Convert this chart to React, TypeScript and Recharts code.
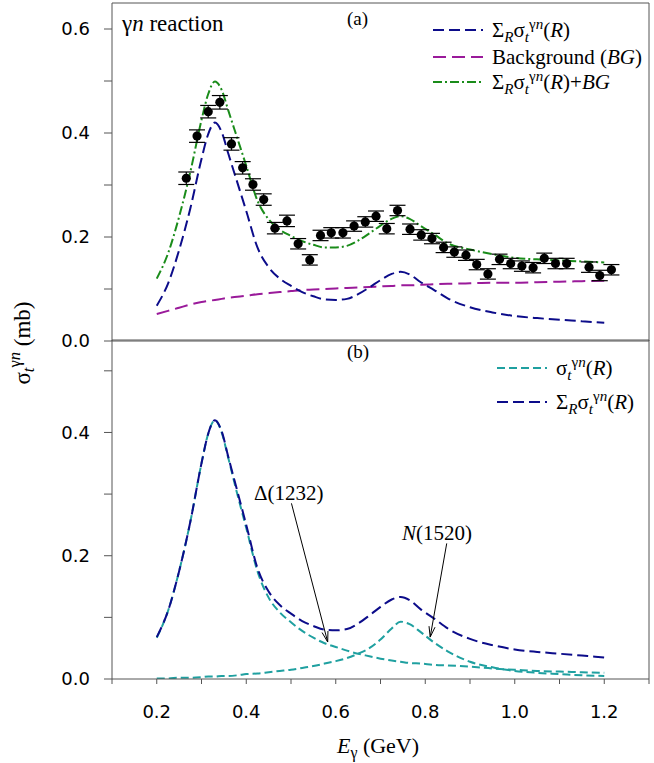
import { ComposedChart, Line, Scatter, ErrorBar, XAxis, YAxis, ReferenceLine } from "recharts";

// photon energy grid for the model curves (GeV)
const energy = [0.2, 0.225, 0.25, 0.275, 0.3, 0.315, 0.33, 0.345, 0.36, 0.38, 0.4, 0.425, 0.45, 0.475, 0.5, 0.525, 0.55, 0.575, 0.6, 0.625, 0.65, 0.675, 0.7, 0.725, 0.745, 0.765, 0.79, 0.82, 0.85, 0.9, 0.95, 1.0, 1.05, 1.1, 1.15, 1.2];
const sumRes = [0.068, 0.11, 0.175, 0.255, 0.35, 0.398, 0.42, 0.402, 0.36, 0.305, 0.25, 0.18, 0.142, 0.12, 0.106, 0.094, 0.086, 0.08, 0.079, 0.081, 0.09, 0.103, 0.117, 0.129, 0.133, 0.128, 0.113, 0.098, 0.082, 0.065, 0.055, 0.048, 0.044, 0.041, 0.038, 0.035];
const background = [0.052, 0.058, 0.064, 0.07, 0.075, 0.077, 0.079, 0.081, 0.083, 0.085, 0.087, 0.09, 0.092, 0.094, 0.096, 0.098, 0.099, 0.1, 0.101, 0.102, 0.103, 0.104, 0.105, 0.106, 0.107, 0.107, 0.108, 0.109, 0.11, 0.111, 0.112, 0.112, 0.113, 0.114, 0.115, 0.116];
const sumPlusBg = [0.12, 0.168, 0.239, 0.325, 0.425, 0.475, 0.499, 0.483, 0.443, 0.39, 0.337, 0.27, 0.234, 0.214, 0.202, 0.192, 0.185, 0.18, 0.18, 0.183, 0.193, 0.207, 0.222, 0.235, 0.24, 0.235, 0.221, 0.205, 0.188, 0.176, 0.167, 0.16, 0.157, 0.155, 0.153, 0.151];
const delta1232 = [0.067, 0.11, 0.175, 0.255, 0.35, 0.398, 0.42, 0.4, 0.358, 0.3, 0.245, 0.175, 0.132, 0.108, 0.092, 0.078, 0.067, 0.058, 0.052, 0.046, 0.041, 0.037, 0.033, 0.03, 0.028, 0.026, 0.025, 0.023, 0.022, 0.02, 0.017, 0.015, 0.013, 0.012, 0.011, 0.01];
const n1520 = [0.001, 0.001, 0.002, 0.002, 0.003, 0.004, 0.004, 0.005, 0.005, 0.006, 0.008, 0.009, 0.011, 0.013, 0.015, 0.018, 0.021, 0.025, 0.029, 0.034, 0.041, 0.05, 0.064, 0.082, 0.093, 0.089, 0.076, 0.059, 0.045, 0.028, 0.019, 0.013, 0.01, 0.008, 0.006, 0.005];

// measured gamma n cross section
const dataE = [0.266, 0.29, 0.315, 0.341, 0.367, 0.392, 0.415, 0.439, 0.464, 0.491, 0.516, 0.542, 0.566, 0.59, 0.616, 0.641, 0.666, 0.69, 0.714, 0.738, 0.766, 0.791, 0.815, 0.841, 0.865, 0.891, 0.915, 0.94, 0.966, 0.991, 1.016, 1.041, 1.066, 1.091, 1.116, 1.166, 1.19, 1.216];
const dataXs = [0.313, 0.394, 0.441, 0.459, 0.379, 0.333, 0.301, 0.272, 0.217, 0.231, 0.187, 0.156, 0.203, 0.208, 0.208, 0.221, 0.229, 0.24, 0.216, 0.251, 0.215, 0.204, 0.197, 0.18, 0.171, 0.165, 0.147, 0.129, 0.157, 0.149, 0.144, 0.141, 0.159, 0.149, 0.149, 0.142, 0.126, 0.137];
const dataErr = [0.012, 0.012, 0.012, 0.013, 0.012, 0.012, 0.011, 0.011, 0.011, 0.011, 0.01, 0.01, 0.01, 0.01, 0.01, 0.01, 0.01, 0.01, 0.01, 0.01, 0.01, 0.01, 0.01, 0.01, 0.01, 0.01, 0.01, 0.01, 0.01, 0.01, 0.01, 0.01, 0.01, 0.01, 0.01, 0.01, 0.01, 0.01];

const xTicks = [0.1, 0.2, 0.3, 0.4, 0.5, 0.6, 0.7, 0.8, 0.9, 1.0, 1.1, 1.2, 1.3];
const yTicksA = [0, 0.1, 0.2, 0.3, 0.4, 0.5, 0.6];
const yTicksB = [0, 0.1, 0.2, 0.3, 0.4, 0.5];

const curves = energy.map((e, i) => ({
  e,
  sum: sumRes[i],
  bg: background[i],
  tot: sumPlusBg[i],
  delta: delta1232[i],
  n: n1520[i],
}));
const points = dataE.map((e, i) => ({ e, xs: dataXs[i], err: dataErr[i] }));

const BLUE = "#0c0c8a";
const MAGENTA = "#9a1a9a";
const GREEN = "#1a8c1a";
const TEAL = "#1fa0a0";
const AXIS = "#555";
const SERIF = "'Liberation Serif', 'Times New Roman', serif";
const SANS = "'DejaVu Sans', sans-serif";

const evenLabel = (v: number) => (Math.round(v * 10) % 2 === 0 ? v.toFixed(1) : "");
const tickFont = { fontFamily: SANS, fontSize: 18, fill: "#000" };

function Arrow(p: any) {
  const { x1, y1, x2, y2 } = p;
  const ang = Math.atan2(y2 - y1, x2 - x1);
  const L = 11;
  const w = 0.28;
  const ax = x2 - L * Math.cos(ang - w);
  const ay = y2 - L * Math.sin(ang - w);
  const bx = x2 - L * Math.cos(ang + w);
  const by = y2 - L * Math.sin(ang + w);
  return (
    <g>
      <line x1={x1} y1={y1} x2={x2} y2={y2} stroke="#000" strokeWidth={1} />
      <polyline points={`${ax},${ay} ${x2},${y2} ${bx},${by}`} fill="none" stroke="#000" strokeWidth={1} />
    </g>
  );
}

const Sub = ({ children }: any) => (
  <span style={{ fontSize: "0.72em", verticalAlign: "-0.3em", lineHeight: 0 }}>{children}</span>
);
const Sup = ({ children }: any) => (
  <span style={{ fontSize: "0.72em", verticalAlign: "0.55em", lineHeight: 0 }}>{children}</span>
);

const SigmaT = () => (
  <>
    σ<Sub><i>t</i></Sub>
    <Sup>
      γ<i>n</i>
    </Sup>
  </>
);
const SumSigma = () => (
  <>
    Σ<Sub><i>R</i></Sub>
    <SigmaT />(<i>R</i>)
  </>
);

function LegendRow({ top, left, color, dash, children }: any) {
  return (
    <div style={{ position: "absolute", top: top - 12, left, height: 24, display: "flex", alignItems: "center", whiteSpace: "nowrap" }}>
      <svg width={50} height={4}>
        <line x1={0} y1={2} x2={50} y2={2} stroke={color} strokeWidth={2} strokeDasharray={dash} />
      </svg>
      <span style={{ marginLeft: 9, fontFamily: SERIF, fontSize: 21 }}>{children}</span>
    </div>
  );
}

const text = (extra: any) => ({ position: "absolute" as const, fontFamily: SERIF, fontSize: 19, whiteSpace: "nowrap" as const, lineHeight: 1, ...extra });

export default function App() {
  return (
    <div style={{ position: "absolute", left: 0, top: 0, width: 654, height: 763, background: "#fff" }}>
      {/* panel (a) */}
      <div style={{ position: "absolute", left: 0, top: 0 }}>
        <ComposedChart width={654} height={350} data={curves} margin={{ top: 3, right: 5, left: 62, bottom: 8 }}>
          <XAxis xAxisId="b" dataKey="e" type="number" domain={[0.1, 1.3]} ticks={xTicks} interval={0} allowDataOverflow height={1} tick={false} tickSize={5} stroke={AXIS} />
          <XAxis xAxisId="t" orientation="top" mirror type="number" domain={[0.1, 1.3]} ticks={xTicks} interval={0} allowDataOverflow height={1} tick={false} tickSize={6} stroke={AXIS} />
          <YAxis yAxisId="l" type="number" domain={[0, 0.65]} ticks={yTicksA} interval={0} allowDataOverflow width={50} tickSize={8} tickMargin={14} tickFormatter={evenLabel} tick={tickFont} stroke={AXIS} />
          <YAxis yAxisId="r" orientation="right" mirror type="number" domain={[0, 0.65]} ticks={yTicksA} interval={0} allowDataOverflow width={1} tick={false} tickSize={6} stroke={AXIS} />
          <Line xAxisId="b" yAxisId="l" type="monotone" dataKey="bg" stroke={MAGENTA} strokeWidth={2} strokeDasharray="13 6" dot={false} isAnimationActive={false} />
          <Line xAxisId="b" yAxisId="l" type="monotone" dataKey="sum" stroke={BLUE} strokeWidth={2} strokeDasharray="11 5" dot={false} isAnimationActive={false} />
          <Line xAxisId="b" yAxisId="l" type="monotone" dataKey="tot" stroke={GREEN} strokeWidth={2} strokeDasharray="9 3 2 3" dot={false} isAnimationActive={false} />
          <Scatter
            xAxisId="b"
            yAxisId="l"
            data={points}
            dataKey="xs"
            isAnimationActive={false}
            shape={(p: any) => <circle cx={p.cx} cy={p.cy} r={4.6} fill="#000" />}
          >
            <ErrorBar dataKey="err" direction="y" width={8} stroke="#000" strokeWidth={1.2} isAnimationActive={false} />
          </Scatter>
        </ComposedChart>
      </div>

      {/* panel (b) */}
      <div style={{ position: "absolute", left: 0, top: 337 }}>
        <ComposedChart width={654} height={426} data={curves} margin={{ top: 3, right: 5, left: 62, bottom: 44 }}>
          <XAxis xAxisId="b" dataKey="e" type="number" domain={[0.1, 1.3]} ticks={xTicks} interval={0} allowDataOverflow height={40} tickSize={5} tickMargin={21} tickFormatter={evenLabel} tick={tickFont} stroke={AXIS} />
          <XAxis xAxisId="t" orientation="top" mirror type="number" domain={[0.1, 1.3]} ticks={xTicks} interval={0} allowDataOverflow height={1} tick={false} tickSize={6} stroke={AXIS} />
          <YAxis yAxisId="l" type="number" domain={[0, 0.55]} ticks={yTicksB} interval={0} allowDataOverflow width={50} tickSize={8} tickMargin={14} tickFormatter={evenLabel} tick={tickFont} stroke={AXIS} />
          <YAxis yAxisId="r" orientation="right" mirror type="number" domain={[0, 0.55]} ticks={yTicksB} interval={0} allowDataOverflow width={1} tick={false} tickSize={6} stroke={AXIS} />
          <Line xAxisId="b" yAxisId="l" type="monotone" dataKey="delta" stroke={TEAL} strokeWidth={2} strokeDasharray="8 4" dot={false} isAnimationActive={false} />
          <Line xAxisId="b" yAxisId="l" type="monotone" dataKey="n" stroke={TEAL} strokeWidth={2} strokeDasharray="8 4" dot={false} isAnimationActive={false} />
          <Line xAxisId="b" yAxisId="l" type="monotone" dataKey="sum" stroke={BLUE} strokeWidth={2} strokeDasharray="11 5" dot={false} isAnimationActive={false} />
          <ReferenceLine xAxisId="b" yAxisId="l" segment={[{ x: 0.501, y: 0.285 }, { x: 0.582, y: 0.06 }]} shape={Arrow} />
          <ReferenceLine xAxisId="b" yAxisId="l" segment={[{ x: 0.848, y: 0.22 }, { x: 0.811, y: 0.068 }]} shape={Arrow} />
        </ComposedChart>
      </div>

      {/* annotations */}
      <div style={text({ left: 122, top: 12, fontSize: 23 })}>
        γ<i>n</i> reaction
      </div>
      <div style={text({ left: 347, top: 9, fontSize: 19 })}>(a)</div>
      <div style={text({ left: 347, top: 342, fontSize: 19 })}>(b)</div>

      <LegendRow top={30} left={433} color={BLUE} dash="11 5">
        <SumSigma />
      </LegendRow>
      <LegendRow top={57} left={433} color={MAGENTA} dash="13 6">
        Background (<i>BG</i>)
      </LegendRow>
      <LegendRow top={82} left={433} color={GREEN} dash="9 3 2 3">
        <SumSigma />+<i>BG</i>
      </LegendRow>

      <LegendRow top={368} left={497} color={TEAL} dash="8 4">
        <SigmaT />(<i>R</i>)
      </LegendRow>
      <LegendRow top={402} left={497} color={BLUE} dash="11 5">
        <SumSigma />
      </LegendRow>

      <div style={text({ left: 254, top: 483, fontSize: 21 })}>Δ(1232)</div>
      <div style={text({ left: 402, top: 523, fontSize: 21 })}>
        <i>N</i>(1520)
      </div>

      <div
        style={text({
          left: 22,
          top: 343,
          fontSize: 23,
          transform: "translate(-50%, -50%) rotate(-90deg)",
        })}
      >
        <SigmaT /> (mb)
      </div>

      <div style={text({ left: 378, top: 746, fontSize: 22, transform: "translate(-50%, -50%)" })}>
        <i>E</i>
        <Sub>γ</Sub> (GeV)
      </div>
    </div>
  );
}
